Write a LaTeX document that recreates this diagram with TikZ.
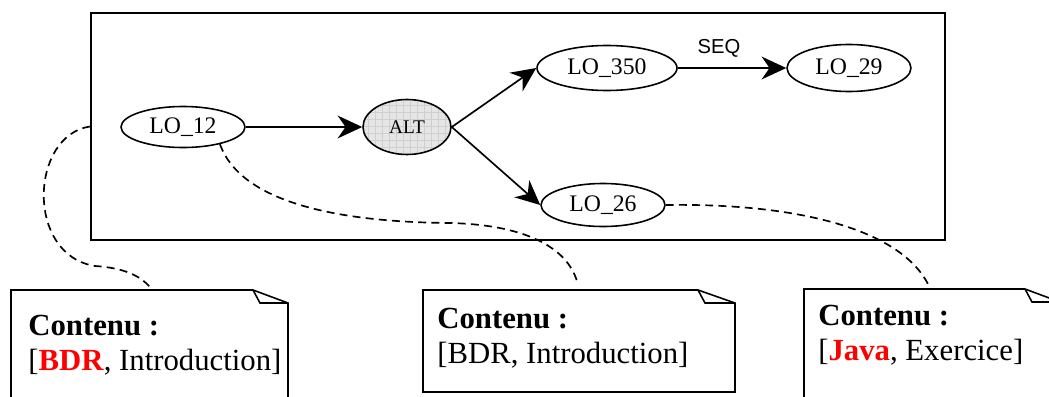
\documentclass[tikz,border=0pt]{standalone}
\usepackage{fontspec}
\setmainfont{Liberation Serif}
\setsansfont{Liberation Sans}
\usetikzlibrary{shapes}
\usetikzlibrary{positioning}
\usetikzlibrary{arrows.meta}

\begin{document}
\begin{tikzpicture}[x=0.02cm, y=-0.02cm,
    lo/.style={ellipse, draw, line width=0.9pt, inner sep=0pt, minimum width=2.48cm, minimum height=0.82cm, font=\fontsize{13.5}{16}\selectfont},
    op/.style={ellipse, draw, line width=0.9pt, inner sep=0pt, minimum width=1.76cm, minimum height=1.1cm, fill=gray!20, font=\fontsize{11}{13}\selectfont,
        path picture={\draw[gray!38, line width=0.3pt, step=4pt] (path picture bounding box.south west) grid (path picture bounding box.north east);}},
    link/.style={line width=0.95pt, -{Stealth[length=14pt, width=13pt, inset=4.5pt]}},
    lien/.style={dash pattern=on 4.5pt off 3pt, line width=0.95pt},
    note/.style={line width=0.9pt, line join=miter},
    notetext/.style={anchor=north west, inner sep=0pt, align=left, font=\fontsize{17.5}{20}\selectfont}]

    \useasboundingbox (0,0) rectangle (1049,396);

    \node (frame) [draw, line width=1.1pt, inner sep=0pt, minimum width=17.08cm, minimum height=4.54cm] at (518,126.5) {};

    \node (lo12) [lo] at (183,127) {LO\_12};
    \node (alt) [op] at (407,127) {ALT};
    \node (lo350) [lo, minimum width=2.8cm, minimum height=0.9cm] at (607,68) {LO\_350};
    \node (lo29) [lo, minimum height=0.94cm] at (849,68) {LO\_29};
    \node (lo26) [lo, minimum height=0.86cm] at (603,205) {LO\_26};

    \draw[link] (lo12) -- (alt);
    \draw[link] (alt.east) -- (lo350.west);
    \draw[link] (alt.east) -- (lo26.west);
    \draw[link] (lo350) -- node[pos=0.38, above=2pt, font=\sffamily\fontsize{11.5}{13}\selectfont] {SEQ} (lo29);

    % notes
    \draw[note] (11,400) -- (11,290) -- (253,290) -- (288,303) -- (288,400);
    \draw[note] (253,290) -- (260,303) -- (288,303);
    \draw[note] (423,392) -- (423,290) -- (698,290) -- (735,303) -- (735,392) -- cycle;
    \draw[note] (698,290) -- (705,303) -- (735,303);
    \draw[note] (804,400) -- (804,289) -- (1025,289) -- (1060,302) -- (1060,400);
    \draw[note] (1025,289) -- (1032,302) -- (1060,302);

    \coordinate (n1) at (150,287);
    \coordinate (n2) at (578,285);
    \coordinate (n3) at (928,284);

    \node (c1) [notetext] at (28,315) {\textbf{Contenu :}\\{[}\textcolor{red}{\textbf{BDR}}, Introduction]};
    \node (c2) [notetext] at (437,308) {\textbf{Contenu :}\\{[}BDR, Introduction]};
    \node (c3) [notetext] at (818,305) {\textbf{Contenu :}\\{[}\textcolor{red}{\textbf{Java}}, Exercice]};

    % dashed links to the notes
    \draw[lien] (frame.west) .. controls (30,135) and (25,255) .. (95,266) .. controls (125,268) and (140,276) .. (n1);
    \draw[lien] (lo12.-25) .. controls (240,200) and (330,222) .. (450,223) .. controls (530,225) and (570,250) .. (n2);
    \draw[lien] (lo26.east) .. controls (800,203) and (900,230) .. (n3);

\end{tikzpicture}
\end{document}
